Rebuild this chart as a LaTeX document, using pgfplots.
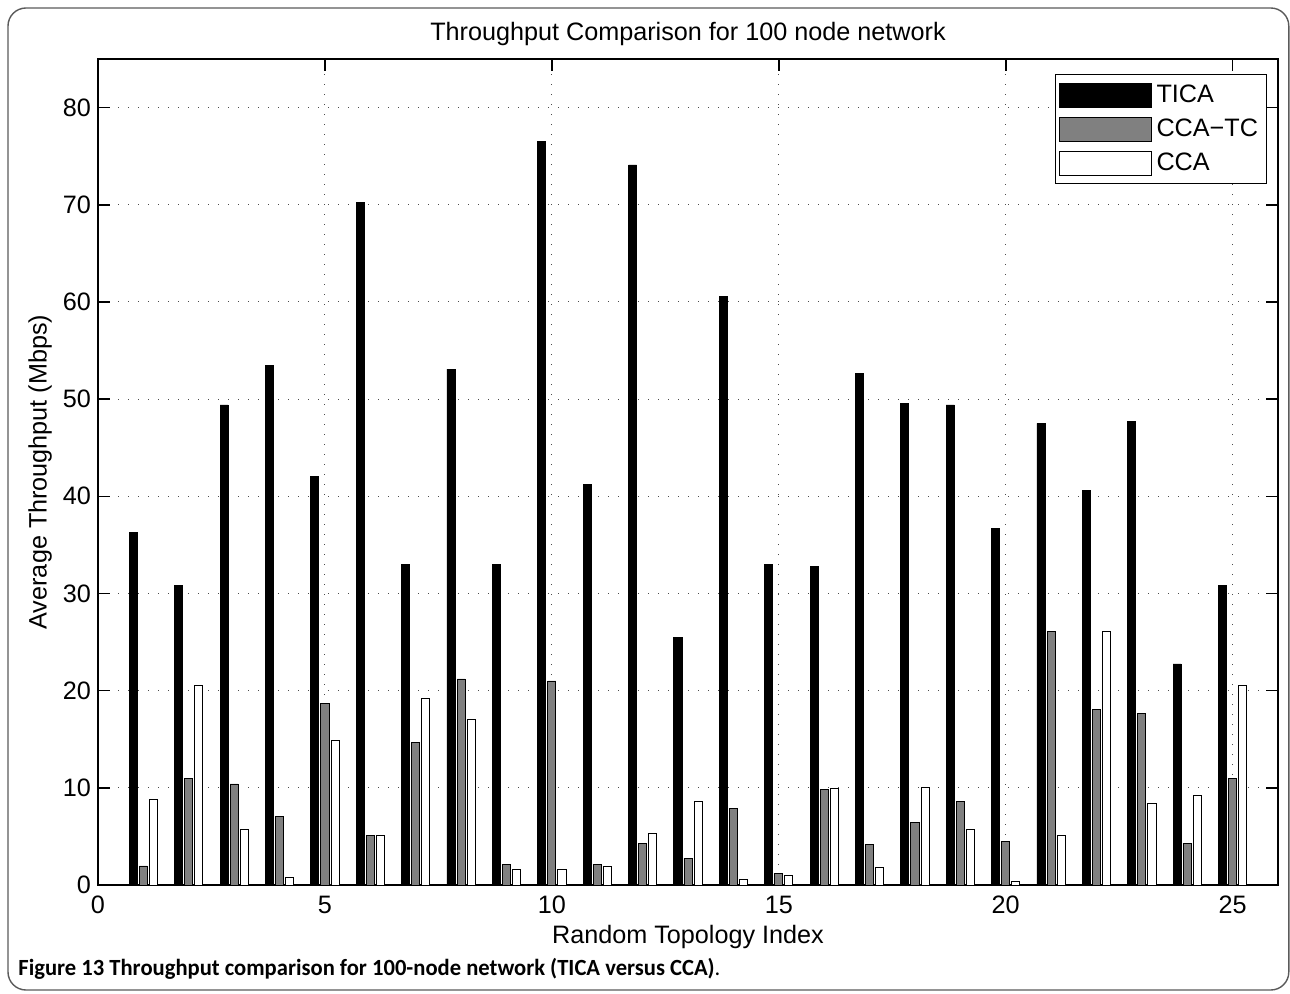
\documentclass[border=0pt]{standalone}
\usepackage{pgfplots}
\pgfplotsset{compat=1.18}
\usepackage{fontspec}
\setmainfont{Liberation Sans}
\newfontfamily\capfont{Carlito}
\definecolor{ccatc}{RGB}{128,128,128}
\definecolor{framegray}{RGB}{90,90,90}
\newcommand{\mf}{\fontsize{12.6}{14}\selectfont}
\begin{document}
\begin{tikzpicture}
\useasboundingbox (0pt,0pt) rectangle (645pt,-497pt);
\draw[rounded corners=9pt, framegray, line width=0.7pt] (4pt,-4pt) rectangle (644.4pt,-495pt);
\begin{axis}[
  ybar, bar width=0.178,
  at={(49pt,-442.5pt)}, anchor=south west,
  scale only axis, width=590pt, height=413pt,
  xmin=0, xmax=26, ymin=0, ymax=85,
  xtick={0,5,10,15,20,25}, ytick={0,10,20,30,40,50,60,70,80},
  tick align=inside, xtick pos=both, ytick pos=both,
  major tick length=6pt,
  /pgf/number format/assume math mode=true,
  ticklabel style={font=\mf},
  xticklabel style={yshift=-2pt},
  axis line style={line width=0.8pt},
  every tick/.style={black, line width=0.8pt},
  grid=major,
  major grid style={black!70, line width=0.5pt, dash pattern=on 0.6pt off 4.4pt},
  title={Throughput Comparison for 100 node network},
  title style={font=\mf, at={(axis description cs:0.5,1)}, anchor=center, yshift=6.5pt},
  xlabel={Random Topology Index},
  xlabel style={font=\mf, at={(axis description cs:0.5,0)}, anchor=center, yshift=-26pt},
  ylabel={Average Throughput (Mbps)},
  ylabel style={font=\mf, at={(axis description cs:0,0.5)}, anchor=center, rotate=0, yshift=29pt},
  legend image code/.code={\draw[#1] (0pt,-6pt) rectangle (46pt,6pt);},
  legend style={at={(0.9907,0.9818)}, anchor=north east, draw=black, line width=0.6pt,
    fill=white, font=\mf, inner xsep=2pt, inner ysep=3pt, row sep=2.2pt,
    nodes={inner sep=2.2pt}},
  legend cell align=left,
]
\addplot[fill=black, draw=black, line width=0.4pt, bar shift=-0.222] coordinates {
(1,36.3) (2,30.8) (3,49.4) (4,53.5) (5,42.0) (6,70.2) (7,33.0) (8,53.1) (9,33.0) (10,76.5)
(11,41.2) (12,74.1) (13,25.5) (14,60.6) (15,33.0) (16,32.8) (17,52.6) (18,49.6) (19,49.4) (20,36.7)
(21,47.5) (22,40.6) (23,47.7) (24,22.75) (25,30.8)};
\addlegendentry{TICA}
\addplot[fill=ccatc, draw=black, line width=0.4pt, bar shift=0] coordinates {
(1,1.96) (2,11.0) (3,10.4) (4,7.07) (5,18.66) (6,5.1) (7,14.7) (8,21.2) (9,2.16) (10,21.0)
(11,2.16) (12,4.32) (13,2.75) (14,7.86) (15,1.18) (16,9.82) (17,4.13) (18,6.48) (19,8.64) (20,4.52)
(21,26.05) (22,18.04) (23,17.64) (24,4.32) (25,11.0)};
\addlegendentry{CCA−TC}
\addplot[fill=white, draw=black, line width=0.4pt, bar shift=0.222] coordinates {
(1,8.84) (2,20.55) (3,5.7) (4,0.79) (5,14.9) (6,5.1) (7,19.2) (8,17.05) (9,1.57) (10,1.57)
(11,1.96) (12,5.3) (13,8.64) (14,0.59) (15,0.98) (16,9.98) (17,1.77) (18,10.0) (19,5.7) (20,0.39)
(21,5.1) (22,26.05) (23,8.41) (24,9.19) (25,20.55)};
\addlegendentry{CCA}
\end{axis}
\node[anchor=base west, inner sep=0pt] at (9pt,-487.5pt) {\resizebox{351pt}{8.6pt}{\capfont\bfseries Figure 13 Throughput comparison for 100-node network (TICA versus CCA)\mdseries.}};
\end{tikzpicture}
\end{document}
